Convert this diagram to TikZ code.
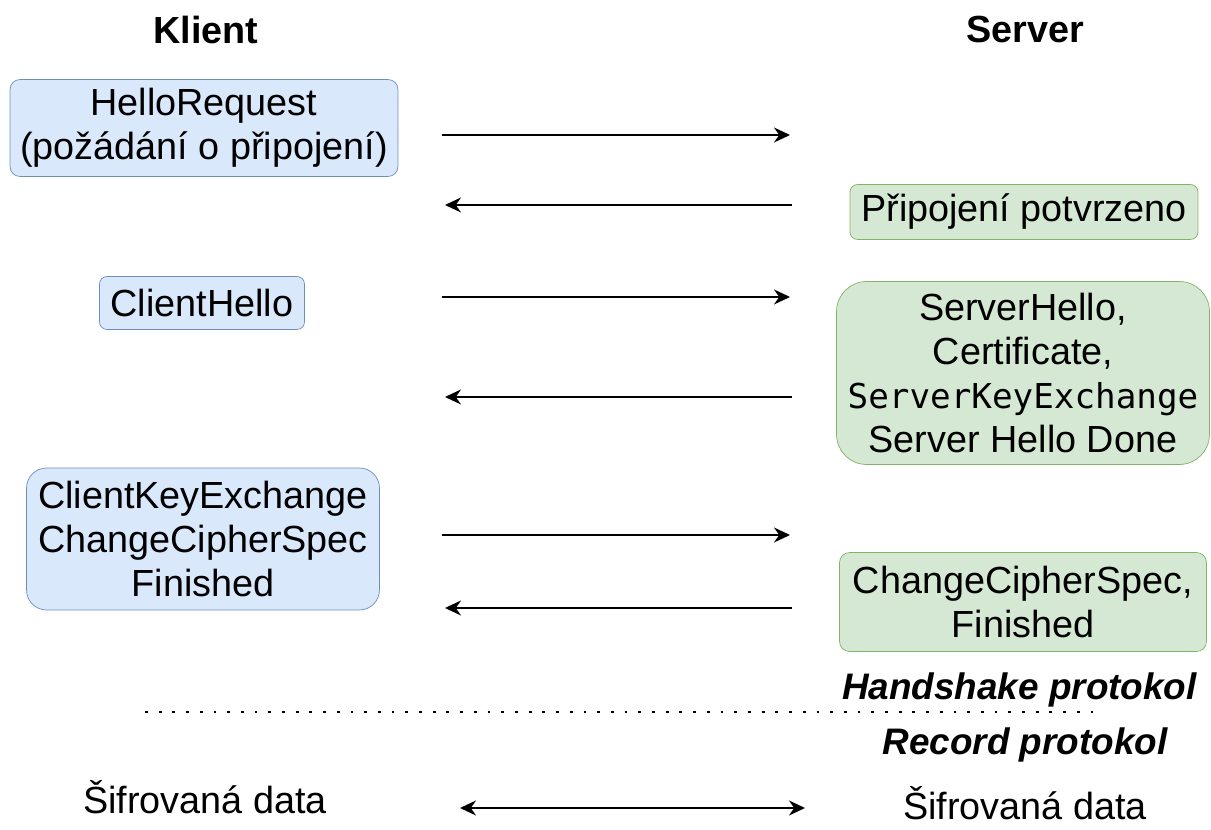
\documentclass[tikz,border=0pt]{standalone}
\usepackage{fontspec}
\setmainfont{Liberation Sans}
\newfontfamily\monofont{DejaVu Sans Mono}
\usetikzlibrary{arrows.meta}
\definecolor{klientfill}{HTML}{DAE8FC}
\definecolor{klientline}{HTML}{6C8EBF}
\definecolor{serverfill}{HTML}{D5E8D4}
\definecolor{serverline}{HTML}{82B366}
\tikzset{msgtext/.style={align=center,inner sep=0pt,font=\fontsize{21.5}{25}\selectfont},
	klientbox/.style={msgtext,draw=klientline,fill=klientfill,rounded corners=0.2cm},
	serverbox/.style={msgtext,draw=serverline,fill=serverfill,rounded corners=0.2cm},
	side/.style={font=\fontsize{21.5}{25}\selectfont\bfseries},
	proto/.style={font=\fontsize{21}{25}\selectfont\bfseries\itshape},
	plain/.style={font=\fontsize{21.5}{25}\selectfont,inner sep=0pt,text depth=0pt,anchor=base},
	msg/.style={line width=1.1pt,-{Stealth[length=0.32cm,width=0.3cm]}}}
\begin{document}
\begin{tikzpicture}[x=0.02cm,y=-0.02cm]
			\useasboundingbox (0,0) rectangle (1211,830);
			\node[side] (K) at (206,30) {Klient};
			\node[side] (S) at (1025,30) {Server};
			
			\node[klientbox,minimum width=7.76cm,minimum height=1.94cm] (HR) at (204,128) {HelloRequest\\(požádání o připojení)};
			\node[serverbox,minimum width=6.96cm,minimum height=1.1cm,rounded corners=0.15cm] (PP) at (1024,212) {Připojení potvrzeno};
			\node[klientbox,minimum width=4.1cm,minimum height=1.06cm,rounded corners=0.15cm] (CH) at (202,303) {ClientHello};
			\node[serverbox,minimum width=7.46cm,minimum height=3.66cm,rounded corners=0.6cm] (SH) at (1023,373) {ServerHello,\\Certificate,\\{\monofont\fontsize{19.5}{26}\selectfont ServerKeyExchange}\\Server Hello Done};
			\node[klientbox,minimum width=7.06cm,minimum height=2.84cm,rounded corners=0.4cm] (CK) at (203,539) {ClientKeyExchange\\ChangeCipherSpec\\Finished};
			\node[serverbox,minimum width=7.34cm,minimum height=1.98cm] (SF) at (1023,602) {ChangeCipherSpec,\\Finished};
			
			\coordinate (L1) at (442,135); \coordinate (R1) at (790,135);
			\coordinate (L2) at (445,205); \coordinate (R2) at (792,205);
			\coordinate (L3) at (442,297); \coordinate (R3) at (790,297);
			\coordinate (L4) at (445,397); \coordinate (R4) at (792,397);
			\coordinate (L5) at (442,535); \coordinate (R5) at (790,535);
			\coordinate (L6) at (445,608); \coordinate (R6) at (792,608);
			\path [msg] (L1) edge (R1);
			\path [msg] (R2) edge (L2);
			\path [msg] (L3) edge (R3);
			\path [msg] (R4) edge (L4);
			\path [msg] (L5) edge (R5);
			\path [msg] (R6) edge (L6);
			
			\node[proto,anchor=east] (HP) at (1203,690) {Handshake protokol};
			\coordinate (D1) at (145,712); \coordinate (D2) at (1095,712);
			\draw[line width=1.6pt,dash pattern=on 1.6pt off 6.2pt] (D1) -- (D2);
			\node[proto] (RP) at (1025,745) {Record protokol};
			
			\node[plain] (DK) at (205,814) {Šifrovaná data};
			\node[plain] (DS) at (1025,820) {Šifrovaná data};
			\coordinate (L7) at (460,808); \coordinate (R7) at (805,808);
			\path [line width=1.1pt,{Stealth[length=0.32cm,width=0.3cm]}-{Stealth[length=0.32cm,width=0.3cm]}] (L7) edge (R7);
		\end{tikzpicture}
\end{document}
